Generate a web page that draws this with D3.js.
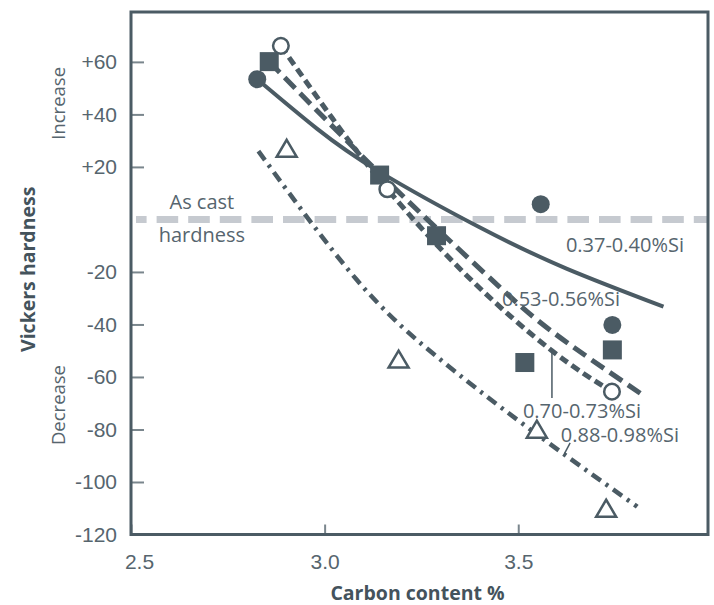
<!DOCTYPE html>
<html>
<head>
<meta charset="utf-8">
<script src="https://cdn.jsdelivr.net/npm/d3@7"></script>
<style>
  html, body { margin: 0; padding: 0; background: #fff; }
  svg { display: block; font-family: "Open Sans", "Noto Sans", sans-serif; }
</style>
</head>
<body>
<svg id="chart" width="714" height="605"></svg>
<script>
// Change in Vickers hardness after treatment vs. carbon content, by silicon range
const seriesNames = ["0.37-0.40%Si", "0.53-0.56%Si", "0.70-0.73%Si", "0.88-0.98%Si"];

// Measured points [carbon %, hardness change]
const si037Points = [[2.826, 53.4], [3.558, 5.8], [3.743, -40.2]];
const si053Points = [[2.857, 60.1], [3.142, 16.9], [3.289, -6.2], [3.517, -54.5], [3.743, -49.7]];
const si070Points = [[2.887, 66.1], [3.162, 11.5], [3.742, -65.6]];
const si088Points = [[2.902, 27.1], [3.191, -53.2], [3.548, -79.9], [3.727, -110]];

// Trend curves [carbon %, hardness change]
const si037Curve = [[2.826, 53.4], [2.98, 34.6], [3.14, 18.3], [3.4, -3.0], [3.626, -18.8], [3.875, -33.2]];
const si053Curve = [[2.857, 60.1], [3.0, 38.5], [3.142, 17.5], [3.29, -3.5], [3.45, -25.5], [3.59, -43], [3.815, -66.2]];
const si070Curve = [[2.887, 66.1], [3.02, 38.5], [3.162, 11.5], [3.37, -21.8], [3.587, -50], [3.742, -65.6]];
const si088Curve = [[2.829, 26], [3.083, -23], [3.29, -52.3], [3.522, -79], [3.807, -109.4]];

// Axis ticks
const xTicks = [2.5, 3.0, 3.5];
const yTicks = [60, 40, 20, -20, -40, -60, -80, -100, -120];
const xDomain = [2.5, 3.99];
const yDomain = [-120, 79];
const asCastValue = 0;

const ink = "#4b5b64";
const textInk = "#56656e";
const tickInk = "#7a868d";
const refGray = "#c6cad0";

const svg = d3.select("#chart");
const margin = { left: 131, top: 12, right: 6, bottom: 70.5 };
const W = 714, H = 605;

const x = d3.scaleLinear().domain(xDomain).range([margin.left, W - margin.right]);
const y = d3.scaleLinear().domain(yDomain).range([H - margin.bottom, margin.top]);

// As-cast reference line
svg.append("line")
  .attr("x1", x(2.5) + 5).attr("x2", x(xDomain[1]))
  .attr("y1", y(asCastValue)).attr("y2", y(asCastValue))
  .attr("stroke", refGray).attr("stroke-width", 7)
  .attr("stroke-dasharray", "21.6,10").attr("stroke-dashoffset", 11);

svg.append("text").attr("x", x(2.683)).attr("y", y(6.7))
  .attr("text-anchor", "middle").attr("dominant-baseline", "central")
  .attr("font-size", 20).attr("fill", textInk).text("As cast");
svg.append("text").attr("x", x(2.683)).attr("y", y(-5.6))
  .attr("text-anchor", "middle").attr("dominant-baseline", "central")
  .attr("font-size", 20).attr("fill", textInk).text("hardness");

// Axes with inward ticks
const yAxis = d3.axisLeft(y).tickValues(yTicks).tickSize(-13).tickPadding(14)
  .tickFormat(d => (d > 0 ? "+" : "") + d);
const gy = svg.append("g").attr("transform", `translate(${margin.left},0)`).call(yAxis);
gy.select(".domain").remove();
gy.selectAll(".tick line").attr("stroke", tickInk).attr("stroke-width", 2);
gy.selectAll(".tick text").attr("font-size", 21).attr("fill", textInk).attr("font-family", null);

const xAxis = d3.axisBottom(x).tickValues(xTicks).tickSize(-10).tickPadding(20)
  .tickFormat(d3.format(".1f"));
const gx = svg.append("g").attr("transform", `translate(0,${y(yDomain[0])})`).call(xAxis);
gx.select(".domain").remove();
gx.selectAll(".tick line").attr("stroke", tickInk).attr("stroke-width", 2);
gx.selectAll(".tick text").attr("font-size", 21).attr("fill", textInk).attr("font-family", null)
  .attr("dx", (d, i) => i === 0 ? 8 : 0);

// Frame
svg.append("rect")
  .attr("x", x(xDomain[0])).attr("y", y(yDomain[1]))
  .attr("width", x(xDomain[1]) - x(xDomain[0]))
  .attr("height", y(yDomain[0]) - y(yDomain[1]))
  .attr("fill", "none").attr("stroke", ink).attr("stroke-width", 3);

// Axis titles
svg.append("text")
  .attr("transform", `translate(27,${y(-19)}) rotate(-90)`)
  .attr("text-anchor", "middle").attr("dominant-baseline", "central")
  .attr("font-size", 19.5).attr("font-weight", 700).attr("fill", "#44535c")
  .text("Vickers hardness");
svg.append("text")
  .attr("x", (x(xDomain[0]) + x(xDomain[1])) / 2 - 2).attr("y", 592)
  .attr("text-anchor", "middle").attr("dominant-baseline", "central")
  .attr("font-size", 19.5).attr("font-weight", 700).attr("fill", "#44535c")
  .text("Carbon content %");
svg.append("text")
  .attr("transform", `translate(57,${y(44.2)}) rotate(-90)`)
  .attr("text-anchor", "middle").attr("dominant-baseline", "central")
  .attr("font-size", 18.5).attr("fill", textInk).text("Increase");
svg.append("text")
  .attr("transform", `translate(57,${y(-70.7)}) rotate(-90)`)
  .attr("text-anchor", "middle").attr("dominant-baseline", "central")
  .attr("font-size", 18.5).attr("fill", textInk).text("Decrease");

// Trend curves
const line = d3.line().x(d => x(d[0])).y(d => y(d[1])).curve(d3.curveNatural);
const curves = [
  { data: si037Curve, dash: null, width: 4 },
  { data: si053Curve, dash: "15,7", width: 5 },
  { data: si070Curve, dash: "9,5", width: 5 },
  { data: si088Curve, dash: "11,6,3,6", width: 4.5 }
];
curves.forEach(c => {
  svg.append("path").datum(c.data).attr("d", line)
    .attr("fill", "none").attr("stroke", ink).attr("stroke-width", c.width)
    .attr("stroke-dasharray", c.dash);
});

// Label annotations: [x, y] anchor, optional leader segment
const labels = [
  { text: seriesNames[0], at: [3.623, -9.7] },
  { text: seriesNames[1], at: [3.458, -30.0] },
  { text: seriesNames[2], at: [3.512, -72.8], leader: [[3.587, -50], [3.587, -68]] },
  { text: seriesNames[3], at: [3.610, -82.1], leader: [[3.634, -85.1], [3.619, -89.3]] }
];
labels.forEach(l => {
  if (l.leader) {
    svg.append("line")
      .attr("x1", x(l.leader[0][0])).attr("y1", y(l.leader[0][1]))
      .attr("x2", x(l.leader[1][0])).attr("y2", y(l.leader[1][1]))
      .attr("stroke", ink).attr("stroke-width", 1.5);
  }
  svg.append("text").attr("x", x(l.at[0])).attr("y", y(l.at[1]))
    .attr("dominant-baseline", "central").attr("font-size", 20)
    .attr("fill", textInk).text(l.text);
});

// Markers
svg.append("g").selectAll("circle").data(si037Points).join("circle")
  .attr("cx", d => x(d[0])).attr("cy", d => y(d[1])).attr("r", 9).attr("fill", ink);
svg.append("g").selectAll("rect").data(si053Points).join("rect")
  .attr("x", d => x(d[0]) - 9.5).attr("y", d => y(d[1]) - 9.5)
  .attr("width", 19).attr("height", 19).attr("fill", ink);
svg.append("g").selectAll("circle").data(si070Points).join("circle")
  .attr("cx", d => x(d[0])).attr("cy", d => y(d[1])).attr("r", 7.8)
  .attr("fill", "#fff").attr("stroke", ink).attr("stroke-width", 2.5);
const tri = "M0,-8.5L10,8.5L-10,8.5Z";
svg.append("g").selectAll("path").data(si088Points).join("path")
  .attr("transform", d => `translate(${x(d[0])},${y(d[1])})`)
  .attr("d", tri).attr("fill", "#fff").attr("stroke", ink)
  .attr("stroke-width", 2.5).attr("stroke-linejoin", "miter");
</script>
</body>
</html>
